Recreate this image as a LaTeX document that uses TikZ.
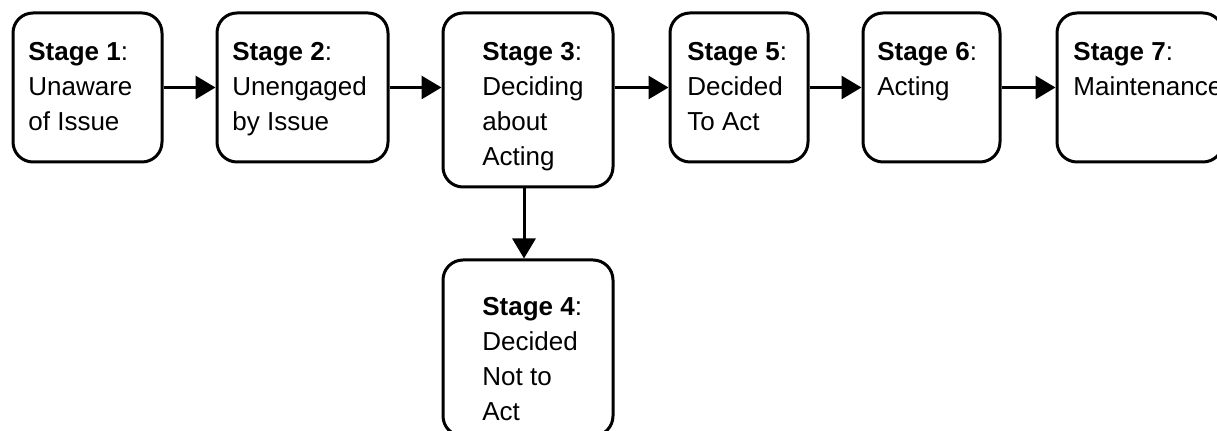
\documentclass[tikz,border=0pt]{standalone}
\usepackage{fontspec}
\setmainfont{Liberation Sans}
\usetikzlibrary{arrows.meta}
\begin{document}
\begin{tikzpicture}[x=0.5pt,y=-0.5pt,
  stagebox/.style={draw,line width=1.5pt,rounded corners=10pt,inner sep=0pt},
  stagetext/.style={anchor=north west,inner sep=0pt,align=left,font=\fontsize{13}{17.5}\selectfont},
  flow/.style={line width=1.5pt,-{Triangle[length=10pt,width=11.5pt]}}]
\useasboundingbox (0,0) rectangle (1217,431);
\clip (0,0) rectangle (1217,431);
% boxes: name/centre x/centre y/width/height (in px)
\foreach \n/\cx/\cy/\w/\h in {s1/87.5/87.5/149/149,s2/302.5/87.5/171/149,s3/528/100/170/174,s5/739/87.5/138/149,s6/931.5/87.5/137/149,s7/1140/87.5/166/149,s4/528/348/170/176} {\node[stagebox,minimum width=\w*0.5pt,minimum height=\h*0.5pt] (\n) at (\cx,\cy) {};}
\node[stagetext] (t1) at (28,42) {{\bfseries Stage 1}:\\Unaware\\of Issue};
\node[stagetext] (t2) at (232,42) {{\bfseries Stage 2}:\\Unengaged\\by Issue};
\node[stagetext] (t3) at (482,42) {{\bfseries Stage 3}:\\Deciding\\about\\Acting};
\node[stagetext] (t5) at (687,42) {{\bfseries Stage 5}:\\Decided\\To Act};
\node[stagetext] (t6) at (877,42) {{\bfseries Stage 6}:\\Acting};
\node[stagetext] (t7) at (1073,42) {{\bfseries Stage 7}:\\Maintenance};
\node[stagetext] (t4) at (482,297) {{\bfseries Stage 4}:\\Decided\\Not to\\Act};
% connectors
\draw[flow] (s1.east) -- (s2.west);
\draw[flow] (s2.east) -- (s2.east -| s3.west);
\draw[flow] (s3.east |- s5.west) -- (s5.west);
\foreach \a/\b in {s5/s6,s6/s7} {\draw[flow] (\a.east) -- (\b.west);}
\draw[flow] ([xshift=-2pt]s3.south) -- ([xshift=-2pt]s4.north);
\end{tikzpicture}
\end{document}
